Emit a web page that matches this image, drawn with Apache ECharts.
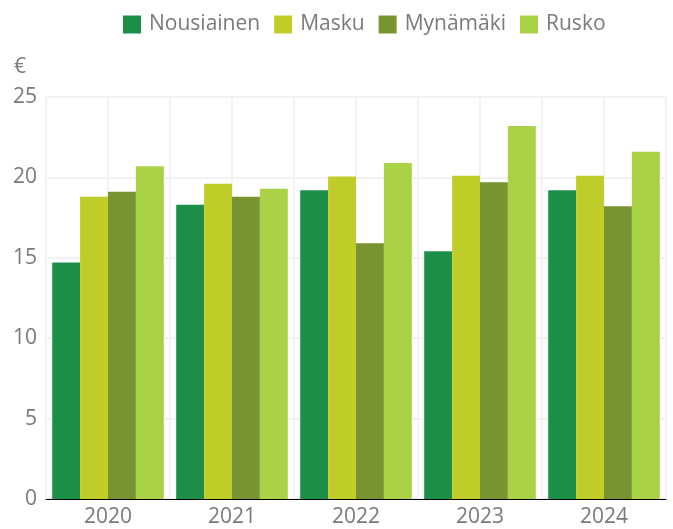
<!DOCTYPE html>
<html><head><meta charset="utf-8">
<script src="https://cdn.jsdelivr.net/npm/echarts@6/dist/echarts.min.js"></script>
<style>html,body{margin:0;padding:0;background:#fff}#c{width:673px;height:529px}</style>
</head><body><div id="c"></div>
<script>
const categories = ['2020','2021','2022','2023','2024'];
const seriesNames = ['Nousiainen','Masku','Mynämäki','Rusko'];
const nousiainen = [14.7, 18.3, 19.2, 15.4, 19.2];
const masku = [18.8, 19.6, 20.05, 20.1, 20.1];
const mynamaki = [19.1, 18.8, 15.9, 19.7, 18.2];
const rusko = [20.7, 19.3, 20.9, 23.2, 21.6];
const colors = ['#1e8f48','#c0cc27','#789431','#aad246'];
const values = [nousiainen, masku, mynamaki, rusko];
const halfCats = categories.flatMap(c => [c + 'a', c + 'b']);

const chart = echarts.init(document.getElementById('c'));
const font = '"Open Sans", Lato, sans-serif';
chart.setOption({
  animation: false,
  color: colors,
  textStyle: {fontFamily: font},
  legend: {
    top: 9, left: 118, itemWidth: 18, itemHeight: 18, itemGap: 14,
    icon: 'rect',
    textStyle: {fontSize: 21, color: '#7a7a7a', fontFamily: font, padding: [0, 0, 0, 3]},
    data: seriesNames
  },
  grid: {left: 46, right: 7, top: 97, bottom: 30, containLabel: false},
  xAxis: [{
    type: 'category', data: categories,
    axisLine: {lineStyle: {color: '#000', width: 1}},
    axisTick: {show: false},
    axisLabel: {fontSize: 21, color: '#7a7a7a', margin: 8, fontFamily: font},
    splitLine: {show: false}
  }, {
    type: 'category', data: halfCats, position: 'bottom',
    axisLine: {show: false}, axisTick: {show: false}, axisLabel: {show: false},
    splitLine: {show: true, lineStyle: {color: '#f2f2f2', width: 2}}
  }],
  yAxis: {
    type: 'value', min: 0, max: 25, interval: 5,
    name: '€', nameLocation: 'end', nameGap: 19,
    nameTextStyle: {fontSize: 21, color: '#7a7a7a', align: 'right', padding: [0, 20, 0, 0]},
    axisLine: {show: false}, axisTick: {show: false},
    axisLabel: {fontSize: 21, color: '#7a7a7a', margin: 9, fontFamily: font},
    splitLine: {lineStyle: {color: '#f2f2f2', width: 2}}
  },
  series: seriesNames.map((n, i) => ({
    name: n, type: 'bar', data: values[i], xAxisIndex: 0,
    barGap: '0%', barCategoryGap: '10%'
  }))
});
</script></body></html>
